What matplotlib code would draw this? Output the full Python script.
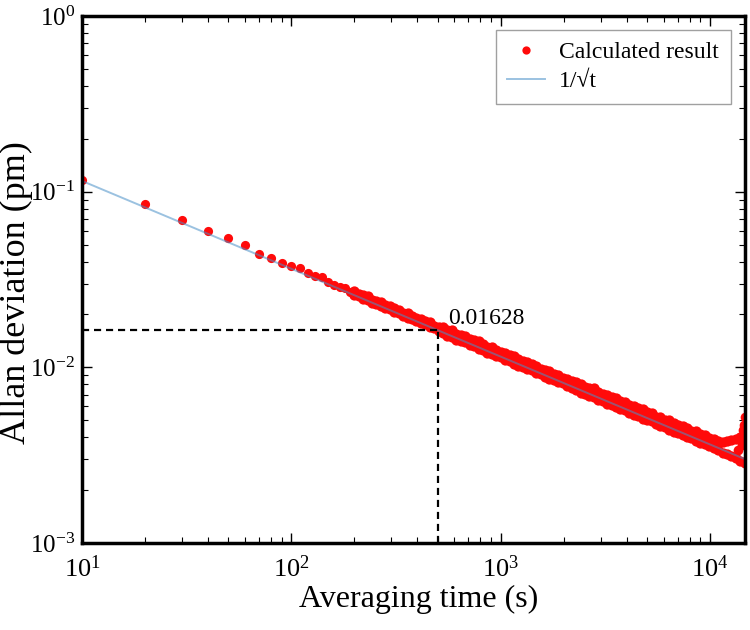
import matplotlib
matplotlib.use('Agg')
import matplotlib.pyplot as plt

plt.rcParams['font.family'] = ['Liberation Serif', 'DejaVu Serif']
plt.rcParams['mathtext.fontset'] = 'custom'
plt.rcParams['mathtext.rm'] = 'Liberation Serif'

# sparse part of the curve (tau = 10 ... 190 s)
tau_sparse = [10, 20, 30, 40, 50, 60, 70, 80, 90, 100,
              110, 120, 130, 140, 150, 160, 170, 180, 190]
adev_sparse = [0.117, 0.0848, 0.069, 0.060, 0.0543, 0.0497, 0.0442, 0.0421,
               0.0394, 0.0378, 0.0368, 0.0346, 0.0331, 0.0327, 0.0305,
               0.0294, 0.0286, 0.0283, 0.0270]

# dense part: upper and lower edge of the red band
tau_dense = [200, 210, 220, 232, 243, 255, 268, 281, 295, 310,
             326, 342, 359, 377, 396, 416, 437, 458, 481, 505,
             531, 557, 585, 614, 645, 677, 711, 747, 784, 823,
             864, 908, 953, 1001, 1051, 1103, 1158, 1216, 1277, 1341,
             1408, 1478, 1552, 1630, 1711, 1797, 1887, 1981, 2080, 2184,
             2294, 2408, 2529, 2655, 2788, 2927, 3074, 3227, 3389, 3558,
             3736, 3923, 4119, 4325, 4541, 4768, 5007, 5257, 5520, 5796,
             6085, 6390, 6709, 7045, 7397, 7767, 8155, 8563, 8991, 9441,
             9913, 10410, 10930, 11480, 12050, 12650, 13280, 13950, 14650]
adev_upper = [0.02703, 0.02612, 0.02574, 0.02536, 0.02428, 0.02392, 0.02357, 0.02257, 0.02223, 0.02190,
              0.02118, 0.02047, 0.02036, 0.01968, 0.01902, 0.01892, 0.01829, 0.01802, 0.01725, 0.01700,
              0.01691, 0.01635, 0.01625, 0.01557, 0.01533, 0.01510, 0.01447, 0.01425, 0.01404, 0.01357,
              0.01312, 0.01305, 0.01262, 0.01220, 0.01213, 0.01173, 0.01166, 0.01117, 0.01080, 0.01074,
              0.01038, 0.01022, 0.00979, 0.00965, 0.00959, 0.00919, 0.00905, 0.00867, 0.00862, 0.00833,
              0.00821, 0.00808, 0.00774, 0.00763, 0.00758, 0.00727, 0.00702, 0.00698, 0.00675, 0.00671,
              0.00643, 0.00633, 0.00607, 0.00603, 0.00583, 0.00580, 0.00556, 0.00547, 0.00524, 0.00521,
              0.00504, 0.00501, 0.00484, 0.00468, 0.00466, 0.00450, 0.00435, 0.00433, 0.00418, 0.00412,
              0.00398, 0.00393, 0.00382, 0.00378, 0.00380, 0.00384, 0.00392, 0.00401, 0.00421]
adev_lower = [0.02574, 0.02537, 0.02451, 0.02416, 0.02335, 0.02301, 0.02223, 0.02170, 0.02139, 0.02067,
              0.02037, 0.01968, 0.01921, 0.01893, 0.01829, 0.01785, 0.01760, 0.01700, 0.01676, 0.01619,
              0.01564, 0.01511, 0.01490, 0.01439, 0.01419, 0.01385, 0.01338, 0.01319, 0.01274, 0.01256,
              0.01213, 0.01196, 0.01156, 0.01139, 0.01101, 0.01085, 0.01048, 0.01023, 0.01008, 0.00974,
              0.00960, 0.00928, 0.00915, 0.00884, 0.00862, 0.00850, 0.00821, 0.00810, 0.00782, 0.00763,
              0.00745, 0.00719, 0.00709, 0.00685, 0.00676, 0.00653, 0.00643, 0.00621, 0.00607, 0.00598,
              0.00578, 0.00569, 0.00550, 0.00537, 0.00529, 0.00511, 0.00499, 0.00492, 0.00475, 0.00464,
              0.00457, 0.00442, 0.00431, 0.00425, 0.00411, 0.00401, 0.00395, 0.00382, 0.00372, 0.00367,
              0.00355, 0.00346, 0.00338, 0.00326, 0.00322, 0.00311, 0.00303, 0.00293, 0.00286]

# scattered points at the very end
tau_end = [13600, 14200, 14400, 14500, 14600, 14650]
adev_end = [0.0034, 0.0036, 0.0044, 0.0047, 0.0040, 0.0052]

# 1/sqrt(t) reference line
line_tau = [10, 15000]
line_adev = [0.1151, 0.002972]

mark_tau = 500
mark_adev = 0.01628

fig = plt.figure(figsize=(7.5, 6.3), dpi=100)
ax = fig.add_axes([82 / 750, 1 - 543 / 630, 663 / 750, 527 / 630])

dot = dict(linestyle='none', marker='o', color='#ff0a0a', mew=0)
ax.plot(tau_sparse, adev_sparse, label='Calculated result', ms=6.6, **dot)
ax.plot(tau_dense, adev_upper, ms=7.4, **dot)
ax.plot(tau_dense, adev_lower, ms=7.4, **dot)
ax.plot(tau_end, adev_end, ms=7.0, **dot)
ax.plot(line_tau, line_adev, color='#4a90c8', lw=1.4, alpha=0.55,
        label='1/\u221at')

dash = dict(color='black', lw=1.6, linestyle=(0, (3.2, 2.2)))
ax.plot([10, mark_tau], [mark_adev, mark_adev], **dash)
ax.plot([mark_tau, mark_tau], [1e-3, mark_adev], **dash)
ax.text(560, mark_adev * 1.02, '0.01628', fontsize=17, va='bottom', ha='left')

ax.set_xscale('log')
ax.set_yscale('log')
ax.set_xlim(10, 14700)
ax.set_ylim(1e-3, 1)

for s in ax.spines.values():
    s.set_linewidth(2.5)
ax.tick_params(which='both', direction='in', top=True, right=True)
ax.tick_params(which='major', length=7, width=1)
ax.tick_params(which='minor', length=4, width=0.8)
ax.tick_params(axis='x', pad=9, labelsize=19)
ax.tick_params(axis='y', pad=5, labelsize=18)

ax.set_xlabel('Averaging time (s)', fontsize=23)
ax.xaxis.set_label_coords(0.507, -0.08)
ax.set_ylabel('Allan deviation (pm)', fontsize=26)
ax.yaxis.set_label_coords(-0.074, 0.475)

leg = ax.legend(loc='upper right', fontsize=17, numpoints=1, fancybox=False,
                borderaxespad=0.6, handlelength=1.6, handletextpad=0.6,
                labelspacing=0.3, borderpad=0.5, markerscale=0.9)
leg.get_frame().set_edgecolor('#888888')
leg.get_frame().set_linewidth(1.0)

fig.savefig('out.png', dpi=100)
